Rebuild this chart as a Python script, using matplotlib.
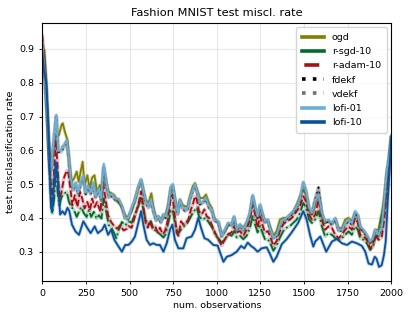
import numpy as np
import matplotlib
matplotlib.use("Agg")
import matplotlib.pyplot as plt

# num. observations / test misclassification rate
x_ogd = [0, 12, 21, 30, 40, 49, 60, 72, 83, 95, 110, 117, 129, 144, 155, 167, 182, 197, 208, 220,
         231, 242, 258, 271, 286, 299, 314, 330, 343, 352, 367, 381, 400, 413, 432, 451, 470, 489, 502, 512,
         531, 550, 566, 579, 592, 608, 625, 636, 652, 665, 680, 694, 707, 722, 737, 747, 760, 776, 789, 802,
         818, 833, 846, 862, 875, 890, 904, 923, 938, 955, 971, 986, 1009, 1028, 1047, 1066, 1085, 1099, 1114, 1133,
         1152, 1171, 1190, 1206, 1219, 1234, 1248, 1261, 1276, 1292, 1305, 1324, 1343, 1362, 1381, 1400, 1420, 1439, 1458, 1477,
         1496, 1511, 1529, 1545, 1564, 1583, 1602, 1621, 1640, 1660, 1679, 1698, 1717, 1736, 1755, 1774, 1793, 1808, 1822, 1841,
         1860, 1879, 1895, 1908, 1927, 1946, 1960, 1975, 1987, 2000]
y_ogd = [0.900, 0.895, 0.820, 0.710, 0.605, 0.560, 0.585, 0.635, 0.645, 0.645, 0.675, 0.680, 0.655, 0.630, 0.555, 0.507, 0.517, 0.537, 0.507, 0.537,
         0.566, 0.497, 0.526, 0.487, 0.520, 0.526, 0.477, 0.497, 0.467, 0.546, 0.497, 0.477, 0.472, 0.467, 0.447, 0.437, 0.413, 0.398, 0.415, 0.420,
         0.455, 0.490, 0.512, 0.483, 0.454, 0.444, 0.473, 0.434, 0.400, 0.405, 0.395, 0.410, 0.410, 0.440, 0.488, 0.493, 0.459, 0.420, 0.454, 0.440,
         0.434, 0.434, 0.464, 0.493, 0.503, 0.478, 0.459, 0.459, 0.469, 0.444, 0.430, 0.400, 0.386, 0.352, 0.361, 0.381, 0.381, 0.400, 0.366, 0.381,
         0.371, 0.386, 0.410, 0.464, 0.430, 0.400, 0.434, 0.410, 0.390, 0.395, 0.376, 0.347, 0.361, 0.395, 0.400, 0.400, 0.410, 0.420, 0.440, 0.464,
         0.483, 0.469, 0.425, 0.410, 0.440, 0.470, 0.410, 0.385, 0.390, 0.385, 0.395, 0.370, 0.370, 0.395, 0.400, 0.390, 0.415, 0.405, 0.370, 0.360,
         0.345, 0.325, 0.335, 0.365, 0.365, 0.415, 0.460, 0.530, 0.580, 0.640]

x_rsgd = [0, 11, 21, 30, 40, 49, 57, 68, 78, 87, 98, 110, 125, 140, 153, 167, 182, 197, 210, 223,
          239, 254, 267, 280, 295, 311, 324, 339, 352, 366, 381, 394, 409, 424, 437, 456, 475, 493, 512, 531,
          550, 566, 579, 592, 608, 623, 636, 655, 674, 694, 707, 722, 737, 747, 760, 776, 795, 814, 833, 852,
          869, 885, 898, 917, 936, 955, 974, 993, 1009, 1028, 1047, 1066, 1085, 1101, 1114, 1133, 1152, 1171, 1190, 1206,
          1219, 1234, 1248, 1261, 1276, 1292, 1305, 1324, 1343, 1362, 1381, 1400, 1420, 1439, 1458, 1477, 1496, 1511, 1529, 1545,
          1564, 1583, 1602, 1621, 1640, 1660, 1679, 1698, 1717, 1736, 1755, 1774, 1793, 1808, 1822, 1841, 1860, 1879, 1895, 1908,
          1927, 1946, 1960, 1975, 1987, 2000]
y_rsgd = [0.900, 0.860, 0.770, 0.675, 0.545, 0.457, 0.413, 0.457, 0.550, 0.477, 0.437, 0.462, 0.472, 0.477, 0.447, 0.432, 0.423, 0.403, 0.418, 0.432,
          0.413, 0.403, 0.423, 0.403, 0.418, 0.398, 0.408, 0.398, 0.457, 0.418, 0.378, 0.373, 0.358, 0.340, 0.363, 0.388, 0.378, 0.390, 0.386, 0.410,
          0.434, 0.459, 0.425, 0.395, 0.380, 0.390, 0.366, 0.361, 0.352, 0.342, 0.352, 0.386, 0.420, 0.425, 0.386, 0.352, 0.366, 0.376, 0.386, 0.405,
          0.420, 0.430, 0.405, 0.395, 0.400, 0.386, 0.371, 0.347, 0.340, 0.327, 0.337, 0.352, 0.347, 0.361, 0.342, 0.347, 0.337, 0.347, 0.371, 0.405,
          0.381, 0.357, 0.376, 0.357, 0.337, 0.337, 0.327, 0.303, 0.318, 0.342, 0.361, 0.371, 0.376, 0.386, 0.395, 0.415, 0.444, 0.430, 0.395, 0.385,
          0.395, 0.420, 0.375, 0.345, 0.355, 0.350, 0.340, 0.335, 0.340, 0.350, 0.360, 0.350, 0.375, 0.365, 0.340, 0.335, 0.325, 0.305, 0.315, 0.340,
          0.350, 0.405, 0.425, 0.490, 0.550, 0.620]

x_radam = [0, 11, 21, 30, 40, 49, 57, 68, 78, 87, 98, 110, 125, 140, 150, 163, 172, 186, 201, 216,
           229, 242, 258, 273, 286, 299, 314, 333, 348, 362, 377, 394, 409, 428, 447, 466, 485, 493, 512, 531,
           550, 566, 579, 592, 604, 617, 630, 646, 661, 674, 690, 703, 718, 734, 745, 757, 770, 780, 795, 808,
           823, 837, 852, 865, 875, 885, 898, 913, 929, 942, 955, 971, 986, 1005, 1028, 1047, 1066, 1085, 1101, 1114,
           1133, 1152, 1171, 1190, 1206, 1219, 1234, 1248, 1261, 1276, 1292, 1305, 1324, 1343, 1362, 1381, 1400, 1420, 1439, 1458,
           1477, 1496, 1511, 1529, 1545, 1564, 1583, 1602, 1621, 1640, 1660, 1679, 1698, 1717, 1736, 1755, 1774, 1793, 1808, 1822,
           1841, 1860, 1879, 1895, 1908, 1927, 1946, 1960, 1975, 1987, 2000]
y_radam = [0.940, 0.870, 0.800, 0.695, 0.575, 0.500, 0.450, 0.545, 0.630, 0.555, 0.457, 0.477, 0.520, 0.540, 0.530, 0.477, 0.437, 0.467, 0.432, 0.477,
           0.457, 0.428, 0.447, 0.423, 0.457, 0.432, 0.447, 0.418, 0.507, 0.457, 0.408, 0.388, 0.378, 0.368, 0.378, 0.363, 0.368, 0.376, 0.371, 0.405,
           0.440, 0.478, 0.434, 0.386, 0.371, 0.390, 0.371, 0.376, 0.357, 0.371, 0.352, 0.361, 0.390, 0.450, 0.469, 0.415, 0.357, 0.347, 0.390, 0.380,
           0.386, 0.395, 0.425, 0.444, 0.464, 0.454, 0.420, 0.410, 0.425, 0.405, 0.400, 0.380, 0.361, 0.340, 0.318, 0.337, 0.352, 0.357, 0.376, 0.357,
           0.361, 0.347, 0.366, 0.395, 0.440, 0.410, 0.371, 0.405, 0.381, 0.357, 0.361, 0.347, 0.318, 0.332, 0.361, 0.381, 0.390, 0.395, 0.405, 0.420,
           0.434, 0.464, 0.449, 0.410, 0.395, 0.410, 0.454, 0.395, 0.365, 0.375, 0.370, 0.350, 0.340, 0.350, 0.365, 0.375, 0.365, 0.400, 0.385, 0.350,
           0.345, 0.335, 0.310, 0.320, 0.350, 0.335, 0.345, 0.395, 0.475, 0.540, 0.630]

x_lofi01 = [0, 8, 15, 27, 40, 49, 60, 72, 80, 91, 106, 125, 140, 151, 163, 178, 191, 205, 220, 235,
            248, 261, 277, 292, 305, 324, 337, 352, 367, 381, 400, 419, 437, 456, 475, 493, 512, 531, 550, 566,
            579, 592, 608, 623, 636, 652, 665, 680, 694, 707, 722, 737, 747, 760, 776, 789, 802, 818, 833, 846,
            862, 875, 890, 904, 923, 938, 955, 971, 986, 1009, 1028, 1047, 1066, 1085, 1099, 1114, 1133, 1152, 1171, 1190,
            1206, 1219, 1234, 1248, 1261, 1276, 1292, 1305, 1324, 1343, 1362, 1381, 1400, 1420, 1439, 1458, 1477, 1496, 1511, 1529,
            1545, 1564, 1583, 1602, 1621, 1640, 1660, 1679, 1698, 1717, 1736, 1755, 1774, 1793, 1808, 1822, 1841, 1860, 1879, 1895,
            1908, 1927, 1946, 1960, 1975, 1987, 2000]
y_lofi01 = [0.920, 0.860, 0.810, 0.710, 0.580, 0.540, 0.600, 0.665, 0.705, 0.600, 0.600, 0.615, 0.630, 0.585, 0.515, 0.487, 0.505, 0.475, 0.505, 0.525,
            0.475, 0.495, 0.475, 0.505, 0.465, 0.487, 0.457, 0.560, 0.505, 0.465, 0.470, 0.457, 0.457, 0.437, 0.400, 0.400, 0.430, 0.455, 0.493, 0.515,
            0.483, 0.450, 0.435, 0.455, 0.425, 0.395, 0.405, 0.390, 0.410, 0.405, 0.435, 0.493, 0.500, 0.455, 0.415, 0.455, 0.435, 0.425, 0.430, 0.460,
            0.483, 0.500, 0.475, 0.445, 0.450, 0.460, 0.435, 0.425, 0.395, 0.390, 0.347, 0.366, 0.386, 0.380, 0.405, 0.366, 0.380, 0.366, 0.386, 0.415,
            0.468, 0.434, 0.405, 0.440, 0.415, 0.390, 0.395, 0.370, 0.342, 0.350, 0.380, 0.395, 0.400, 0.410, 0.420, 0.434, 0.458, 0.507, 0.483, 0.430,
            0.415, 0.450, 0.470, 0.415, 0.390, 0.395, 0.385, 0.400, 0.365, 0.365, 0.385, 0.395, 0.385, 0.420, 0.410, 0.375, 0.365, 0.350, 0.330, 0.340,
            0.365, 0.350, 0.375, 0.454, 0.540, 0.580, 0.645]

# fdekf / vdekf sit almost on top of lofi-01
y_fdekf = [0.915, 0.855, 0.805, 0.705, 0.575, 0.540, 0.595, 0.660, 0.700, 0.595, 0.595, 0.610, 0.625, 0.580, 0.510, 0.482, 0.500, 0.470, 0.500, 0.520,
           0.470, 0.490, 0.470, 0.500, 0.460, 0.482, 0.452, 0.550, 0.500, 0.460, 0.465, 0.452, 0.452, 0.432, 0.398, 0.398, 0.425, 0.450, 0.488, 0.510,
           0.478, 0.445, 0.430, 0.450, 0.420, 0.392, 0.400, 0.386, 0.405, 0.400, 0.430, 0.488, 0.495, 0.450, 0.410, 0.450, 0.430, 0.420, 0.425, 0.455,
           0.478, 0.495, 0.470, 0.440, 0.445, 0.455, 0.430, 0.420, 0.392, 0.386, 0.345, 0.362, 0.382, 0.376, 0.400, 0.362, 0.376, 0.362, 0.382, 0.410,
           0.462, 0.430, 0.400, 0.435, 0.410, 0.386, 0.390, 0.366, 0.340, 0.347, 0.376, 0.390, 0.396, 0.405, 0.415, 0.430, 0.452, 0.500, 0.478, 0.425,
           0.412, 0.455, 0.490, 0.412, 0.386, 0.390, 0.380, 0.396, 0.362, 0.362, 0.380, 0.390, 0.380, 0.415, 0.405, 0.370, 0.360, 0.346, 0.327, 0.336,
           0.360, 0.346, 0.370, 0.448, 0.535, 0.575, 0.640]
y_vdekf = [0.918, 0.858, 0.808, 0.708, 0.578, 0.542, 0.598, 0.662, 0.702, 0.598, 0.605, 0.618, 0.628, 0.583, 0.513, 0.485, 0.503, 0.473, 0.503, 0.522,
           0.473, 0.493, 0.473, 0.503, 0.463, 0.485, 0.455, 0.555, 0.503, 0.463, 0.468, 0.455, 0.455, 0.435, 0.399, 0.399, 0.428, 0.453, 0.490, 0.512,
           0.480, 0.448, 0.433, 0.453, 0.423, 0.394, 0.403, 0.388, 0.408, 0.403, 0.433, 0.490, 0.497, 0.453, 0.413, 0.453, 0.433, 0.423, 0.428, 0.458,
           0.480, 0.497, 0.473, 0.443, 0.448, 0.458, 0.433, 0.423, 0.394, 0.388, 0.346, 0.364, 0.384, 0.378, 0.403, 0.364, 0.378, 0.364, 0.384, 0.413,
           0.465, 0.432, 0.403, 0.438, 0.413, 0.388, 0.393, 0.368, 0.341, 0.349, 0.378, 0.393, 0.398, 0.408, 0.418, 0.432, 0.455, 0.504, 0.480, 0.428,
           0.414, 0.452, 0.480, 0.414, 0.388, 0.393, 0.383, 0.398, 0.364, 0.364, 0.383, 0.393, 0.383, 0.418, 0.408, 0.373, 0.363, 0.348, 0.329, 0.338,
           0.363, 0.348, 0.373, 0.451, 0.538, 0.578, 0.643]

x_lofi10 = [0, 8, 15, 22, 30, 40, 50, 57, 68, 78, 91, 102, 115, 129, 144, 155, 170, 190, 210, 235,
            258, 277, 300, 318, 343, 358, 377, 394, 413, 437, 456, 475, 493, 513, 531, 550, 566, 579, 598, 617,
            636, 655, 674, 694, 713, 732, 745, 760, 780, 808, 827, 856, 875, 894, 910, 929, 951, 980, 1005, 1024,
            1038, 1057, 1085, 1114, 1139, 1158, 1177, 1196, 1215, 1234, 1257, 1286, 1305, 1324, 1343, 1372, 1400, 1429, 1467, 1496,
            1515, 1534, 1553, 1564, 1593, 1627, 1660, 1688, 1717, 1746, 1774, 1803, 1832, 1851, 1870, 1889, 1905, 1915, 1930, 1945,
            1958, 1968, 1980, 1992, 2000]
y_lofi10 = [0.890, 0.840, 0.820, 0.800, 0.720, 0.580, 0.430, 0.420, 0.510, 0.565, 0.500, 0.410, 0.420, 0.410, 0.430, 0.420, 0.380, 0.360, 0.350, 0.390,
            0.370, 0.355, 0.375, 0.355, 0.365, 0.380, 0.350, 0.365, 0.335, 0.315, 0.300, 0.320, 0.320, 0.330, 0.345, 0.385, 0.420, 0.380, 0.335, 0.320,
            0.325, 0.320, 0.320, 0.300, 0.325, 0.365, 0.380, 0.335, 0.310, 0.310, 0.340, 0.345, 0.365, 0.400, 0.370, 0.340, 0.335, 0.320, 0.318, 0.290,
            0.270, 0.285, 0.290, 0.300, 0.317, 0.310, 0.327, 0.317, 0.310, 0.300, 0.310, 0.313, 0.293, 0.270, 0.285, 0.322, 0.337, 0.357, 0.386, 0.420,
            0.395, 0.350, 0.315, 0.330, 0.345, 0.300, 0.330, 0.338, 0.325, 0.320, 0.330, 0.325, 0.317, 0.300, 0.265, 0.262, 0.285, 0.280, 0.255, 0.260,
            0.290, 0.330, 0.450, 0.560, 0.640]

series = [
    (x_ogd, y_ogd, "olive", "-", "ogd"),
    (x_rsgd, y_rsgd, "#006d2c", "-.", "r-sgd-10"),
    (x_radam, y_radam, "#a50f15", "--", "r-adam-10"),
    (x_lofi01, y_fdekf, "black", (0, (1, 2)), "fdekf"),
    (x_lofi01, y_vdekf, "#707070", (0, (1, 2)), "vdekf"),
    (x_lofi01, y_lofi01, "#6baed6", "-", "lofi-01"),
    (x_lofi10, y_lofi10, "#08519c", "-", "lofi-10"),
]

fig = plt.figure(figsize=(4.11, 3.18), dpi=100)
ax = fig.add_axes([0.103, 0.116, 0.849, 0.813])

for xs, ys, c, ls, name in series:
    # soft halo, then the line itself
    ax.plot(xs, ys, color=c, lw=2.6, alpha=0.25, solid_capstyle="round")
    ax.plot(xs, ys, color=c, lw=1.3, ls=ls, label=name)

ax.set_xlim(0, 2000)
ax.set_ylim(0.213, 0.978)
ax.set_xticks([0, 250, 500, 750, 1000, 1250, 1500, 1750, 2000])
ax.set_yticks([0.3, 0.4, 0.5, 0.6, 0.7, 0.8, 0.9])
ax.tick_params(labelsize=6.8, length=2.5, width=0.6)
ax.grid(alpha=0.3)
for s in ax.spines.values():
    s.set_linewidth(0.8)

ax.set_xlabel("num. observations", fontsize=6.8, labelpad=1.5)
ax.set_ylabel("test misclassification rate", fontsize=6.8, labelpad=3)
ax.set_title("Fashion MNIST test miscl. rate", fontsize=8.2, pad=5)
leg = ax.legend(loc="upper right", fontsize=6.8, handlelength=2.4, borderpad=0.6, labelspacing=0.55)
hl = leg.get_lines()
for h in hl:
    h.set_linewidth(2.6)
hl[1].set_linestyle("-")
hl[2].set_linestyle((0, (0.001, 0.64, 4.15, 10)))

fig.savefig("out.png", dpi=100)
